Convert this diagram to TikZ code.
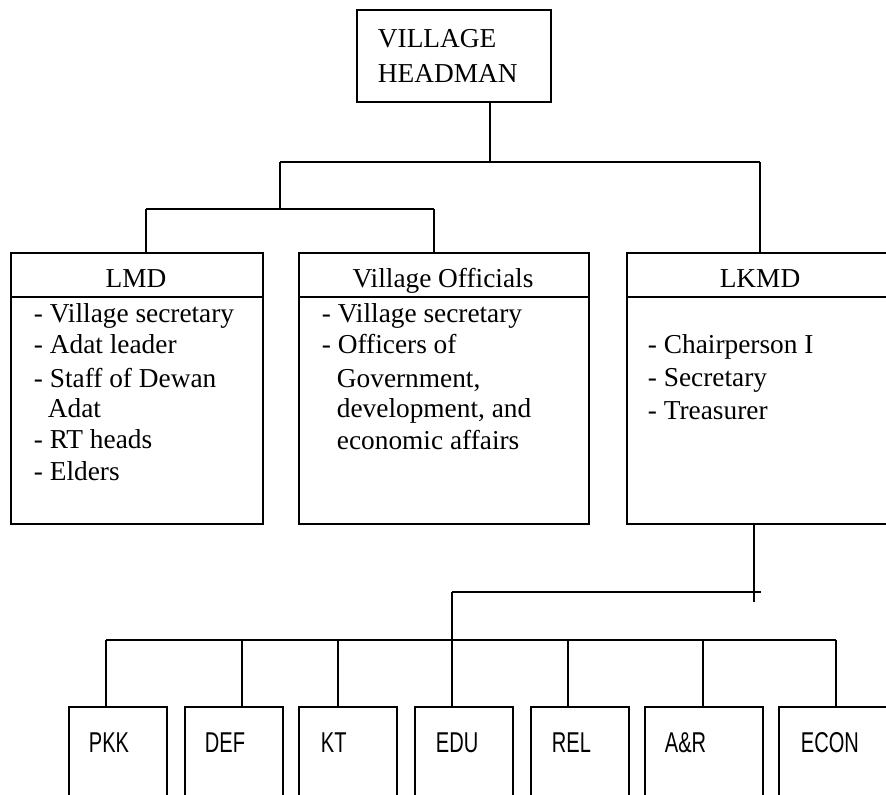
\documentclass[tikz,border=0pt]{standalone}
\usepackage{fontspec}
\setmainfont{Liberation Serif}
\newfontfamily\unitsans[FakeStretch=0.7]{Liberation Sans}
\begin{document}
\begin{tikzpicture}[x=0.75pt,y=-0.75pt,
  line width=1.4pt,
  frame/.style={draw,line width=1.4pt,rectangle,anchor=north west,inner sep=0pt},
  bigbox/.style={frame,minimum height=203.25pt},
  unitbox/.style={frame,minimum height=85.5pt},
  txt/.style={inner sep=0pt,font=\fontsize{20.5}{24}\selectfont},
  item/.style={txt,anchor=base west},
  head/.style={txt,anchor=base},
  unit/.style={inner sep=0pt,anchor=base west,font=\unitsans\fontsize{21.5}{25}\selectfont}]
\useasboundingbox (0,0) rectangle (886,794);
\clip (0,0) rectangle (886,794);

% top box
\node[frame,minimum width=145.5pt,minimum height=69pt] (headman) at (356,9) {};
\node[item] (hm1) at (377,47) {VILLAGE};
\node[item] (hm2) at (377,82) {HEADMAN};

% three councils
\node[bigbox,minimum width=189pt] (lmd) at (10,252) {};
\node[bigbox,minimum width=217.5pt] (vo) at (298,252) {};
\node[bigbox,minimum width=201pt] (lkmd) at (626,252) {};
\foreach \b in {lmd,vo,lkmd}
  \draw ([yshift=-33.75pt]\b.north west) -- ([yshift=-33.75pt]\b.north east);

\node[head] (lmdh) at (136,287) {LMD};
\node[item] (l1) at (33,322) {- Village secretary};
\node[item] (l2) at (33,353) {- Adat leader};
\node[item] (l3) at (33,387) {- Staff of Dewan};
\node[item] (l4) at (47,417) {Adat};
\node[item] (l5) at (33,448) {- RT heads};
\node[item] (l6) at (33,480) {- Elders};

\node[head] (voh) at (443,287) {Village Officials};
\node[item] (v1) at (321,322) {- Village secretary};
\node[item] (v2) at (321,353) {- Officers of};
\node[item] (v3) at (336,387) {Government,};
\node[item] (v4) at (336,417) {development, and};
\node[item] (v5) at (336,449) {economic affairs};

\node[head] (lkmdh) at (760,287) {LKMD};
\node[item] (k1) at (647,353) {- Chairperson I};
\node[item] (k2) at (647,386) {- Secretary};
\node[item] (k3) at (647,419) {- Treasurer};

% upper connectors
\coordinate (jA) at (490,162);
\coordinate (jAl) at (280,162);
\coordinate (jAr) at (760,162);
\coordinate (jB) at (280,209);
\coordinate (jBl) at (146,209);
\coordinate (jBr) at (434,209);
\draw (headman.south -| jA) -- (jA);
\draw (jAl) -- (jAr);
\draw (jAl) -- (jB);
\draw (jBl) -- (jBr);
\draw (jBl) -- (jBl |- lmd.north);
\draw (jBr) -- (jBr |- vo.north);
\draw (jAr) -- (jAr |- lkmd.north);

% working units
\node[unitbox,minimum width=73.5pt] (pkk) at (68,706) {};
\node[unitbox,minimum width=73.5pt] (def) at (184,706) {};
\node[unitbox,minimum width=73.5pt] (kt) at (298,706) {};
\node[unitbox,minimum width=73.5pt] (edu) at (414,706) {};
\node[unitbox,minimum width=73.5pt] (rel) at (530,706) {};
\node[unitbox,minimum width=88.5pt] (ar) at (644,706) {};
\node[unitbox,minimum width=88.5pt] (econ) at (778,706) {};
\node[unit] (tpkk) at (88,752) {PKK};
\node[unit] (tdef) at (204,752) {DEF};
\node[unit] (tkt) at (320,752) {KT};
\node[unit] (tedu) at (435,752) {EDU};
\node[unit] (trel) at (551,752) {REL};
\node[unit] (tar) at (664,752) {A\&R};
\node[unit] (tecon) at (800,752) {ECON};

% lower connectors
\coordinate (kA) at (754,602);
\coordinate (kH) at (761,592);
\coordinate (kL) at (452,592);
\coordinate (kM) at (452,640);
\coordinate (kW) at (106,640);
\coordinate (kE) at (836,640);
\draw (lkmd.south -| kA) -- (kA);
\draw (kL) -- (kH);
\draw (kL) -- (kM);
\draw (kW) -- (kE);
\coordinate (d1) at (106,640);
\coordinate (d2) at (242,640);
\coordinate (d3) at (338,640);
\coordinate (d4) at (452,640);
\coordinate (d5) at (568,640);
\coordinate (d6) at (703,640);
\coordinate (d7) at (836,640);
\draw (d1) -- (d1 |- pkk.north);
\draw (d2) -- (d2 |- def.north);
\draw (d3) -- (d3 |- kt.north);
\draw (d4) -- (d4 |- edu.north);
\draw (d5) -- (d5 |- rel.north);
\draw (d6) -- (d6 |- ar.north);
\draw (d7) -- (d7 |- econ.north);
\end{tikzpicture}
\end{document}
